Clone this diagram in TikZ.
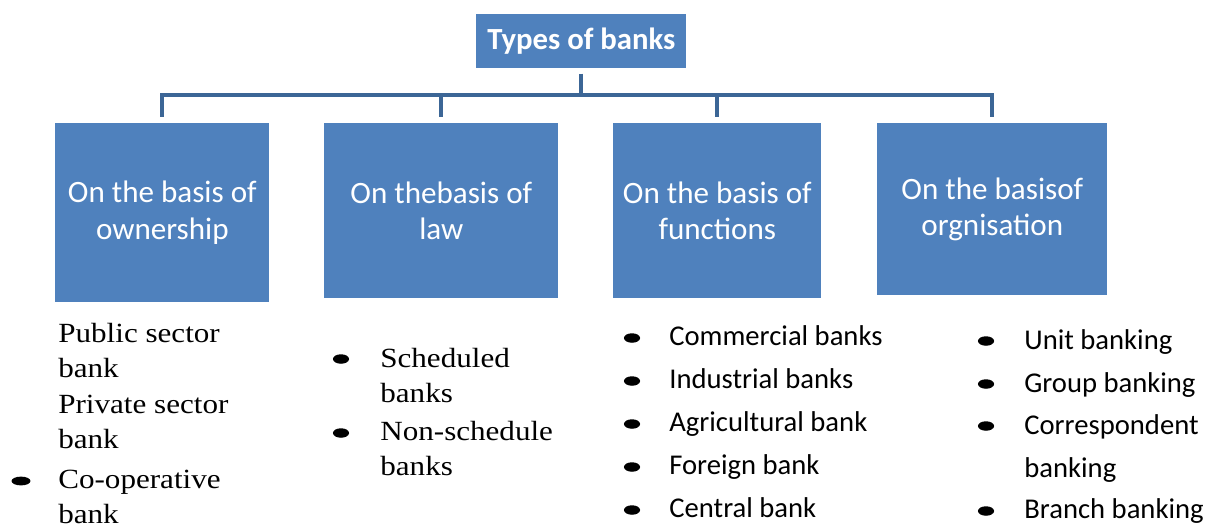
\documentclass[tikz,border=0pt]{standalone}
\usepackage{fontspec}
\setmainfont{Carlito}
\newfontfamily\listserif{Liberation Serif}[FakeStretch=1.12]
\definecolor{boxblue}{HTML}{4F81BD}
\definecolor{linkblue}{HTML}{3C6696}

\tikzset{
  basis/.style={fill=boxblue, text=white, anchor=north west, align=center, inner sep=0pt,
    font=\fontsize{17.7}{21}\selectfont},
  link/.style={draw=linkblue, line width=2.4pt},
  item/.style={anchor=base west, inner sep=0pt, font=\fontsize{16.3}{19.5}\selectfont},
  seritem/.style={anchor=base west, inner sep=0pt, font=\listserif\fontsize{15.8}{19}\selectfont}
}

\begin{document}
\begin{tikzpicture}[x=0.02cm, y=-0.02cm]
  \useasboundingbox (0,0) rectangle (1209,529);
  % root box
  \node[basis, minimum width=4.2cm, minimum height=1.08cm,
    font=\bfseries\fontsize{17.5}{21}\selectfont] (types) at (476,14) {Types of banks};
  % the four groups
  \node[basis, minimum width=4.28cm, minimum height=3.58cm] (own) at (55,123) {On the basis of\\ownership};
  \node[basis, minimum width=4.68cm, minimum height=3.5cm] (law) at (324,123) {On thebasis of\\law};
  \node[basis, minimum width=4.16cm, minimum height=3.5cm] (func) at (613,123) {On the basis of\\functions};
  \node[basis, minimum width=4.6cm, minimum height=3.44cm] (org) at (877,123) {On the basisof\\orgnisation};
  % tree lines
  \coordinate (hub) at (types.south |- 0,95);
  \draw[link, shorten <=2.8pt] (types.south) -- (hub);
  \foreach \b in {own,law,func,org}
    \draw[link, shorten >=3.4pt] (hub) -| (\b.north);

  % ownership
  \foreach \y/\t [count=\i] in {342/Public sector, 377/bank, 413/Private sector, 448/bank, 488/Co-operative, 523/bank}
    \node[seritem] (own\i) at (58,\y) {\t};
  \fill (21,481) ellipse (5.4pt and 2.5pt);
  % law
  \foreach \y/\t [count=\i] in {367/Scheduled, 402/banks, 440/Non-schedule, 475/banks}
    \node[seritem] (law\i) at (380,\y) {\t};
  \foreach \y in {359,433}
    \fill (341,\y) ellipse (4.6pt and 2.7pt);
  % functions
  \foreach \y/\t [count=\i] in {345/Commercial banks, 388/Industrial banks, 431/Agricultural bank, 474/Foreign bank, 517/Central bank}
    \node[item] (func\i) at (669,\y) {\t};
  \foreach \y in {338,381,424,467,510}
    \fill (632,\y) ellipse (4.6pt and 2.7pt);
  % organisation
  \foreach \y/\t [count=\i] in {349/Unit banking, 392/Group banking, 434/Correspondent, 477/banking, 518/Branch banking}
    \node[item] (org\i) at (1024,\y) {\t};
  \foreach \y in {341,384,426,511}
    \fill (986,\y) ellipse (4.6pt and 2.7pt);
\end{tikzpicture}
\end{document}
